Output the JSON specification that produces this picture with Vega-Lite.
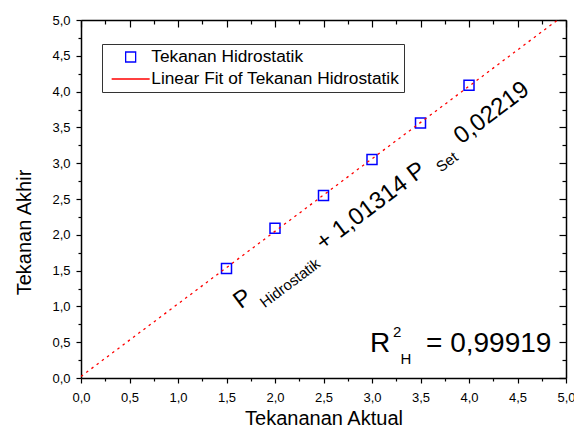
{
  "$schema": "https://vega.github.io/schema/vega-lite/v6.json",
  "width": 485,
  "height": 358,
  "autosize": {"type": "none"},
  "padding": {"left": 81, "top": 20, "right": 8, "bottom": 49},
  "background": "white",
  "config": {
    "font": "Liberation Sans",
    "locale": {"number": {"decimal": ",", "thousands": ".", "grouping": [3], "currency": ["", ""]}},
    "view": {"stroke": null},
    "legend": {"strokeWidth": 1},
    "axis": {
      "grid": false,
      "domainColor": "black",
      "domainWidth": 1.5,
      "tickColor": "black",
      "tickWidth": 1.2,
      "labelColor": "black",
      "titleColor": "black",
      "labelFont": "Liberation Sans",
      "titleFont": "Liberation Sans",
      "titleFontWeight": "normal"
    }
  },
  "datasets": {
    "obs": [
      {"aktual": 1.5, "akhir": 1.53, "series": "Tekanan Hidrostatik"},
      {"aktual": 2.0, "akhir": 2.09, "series": "Tekanan Hidrostatik"},
      {"aktual": 2.5, "akhir": 2.55, "series": "Tekanan Hidrostatik"},
      {"aktual": 3.0, "akhir": 3.05, "series": "Tekanan Hidrostatik"},
      {"aktual": 3.5, "akhir": 3.56, "series": "Tekanan Hidrostatik"},
      {"aktual": 4.0, "akhir": 4.09, "series": "Tekanan Hidrostatik"}
    ],
    "fit": [
      {"aktual": 0, "akhir": 0.02219, "series": "Linear Fit of Tekanan Hidrostatik"},
      {"aktual": 4.913, "akhir": 5.0, "series": "Linear Fit of Tekanan Hidrostatik"}
    ],
    "eqBig": [
      {"x": 1.67, "y": 1.103, "t": "P"},
      {"x": 2.99, "y": 2.395, "t": "+ 1,01314 P"},
      {"x": 4.234, "y": 3.701, "t": "0,02219"}
    ],
    "eqSmall": [
      {"x": 2.155, "y": 1.327, "t": "Hidrostatik"},
      {"x": 3.773, "y": 3.017, "t": "Set"}
    ],
    "rBig": [
      {"x": 2.979, "y": 0.367, "t": "R"},
      {"x": 3.557, "y": 0.367, "t": "= 0,99919"}
    ],
    "rSmall": [
      {"x": 3.216, "y": 0.568, "t": "2"},
      {"x": 3.294, "y": 0.196, "t": "H"}
    ]
  },
  "resolve": {"axis": {"x": "independent", "y": "independent"}},
  "layer": [
    {
      "data": {"name": "obs"},
      "mark": {"type": "point", "shape": "square", "filled": false, "size": 100, "strokeWidth": 1.5, "opacity": 1},
      "encoding": {
        "x": {
          "field": "aktual", "type": "quantitative",
          "scale": {"domain": [0, 5], "nice": false, "zero": false},
          "axis": {"orient": "bottom", "values": [0, 0.5, 1, 1.5, 2, 2.5, 3, 3.5, 4, 4.5, 5], "format": ".1f", "tickSize": 5, "labelPadding": 8, "labelFontSize": 13, "labelFlush": false, "labelOverlap": false, "title": "Tekananan Aktual", "titleFontSize": 20, "titleY": 46, "titleBaseline": "alphabetic"}
        },
        "y": {
          "field": "akhir", "type": "quantitative",
          "scale": {"domain": [0, 5], "nice": false, "zero": false},
          "axis": {"orient": "left", "values": [0, 0.5, 1, 1.5, 2, 2.5, 3, 3.5, 4, 4.5, 5], "format": ".1f", "tickSize": 5, "labelPadding": 6, "labelFontSize": 13, "labelFlush": false, "labelOverlap": false, "title": "Tekanan Akhir", "titleFontSize": 20, "titleX": -51, "titleY": 212, "titleAngle": 270, "titleBaseline": "alphabetic"}
        },
        "color": {
          "field": "series", "type": "nominal",
          "scale": {"domain": ["Tekanan Hidrostatik", "Linear Fit of Tekanan Hidrostatik"], "range": ["#0000ff", "#ff0000"]},
          "legend": {
            "title": null, "orient": "none", "legendX": 21, "legendY": 24,
            "strokeColor": "#333333", "fillColor": "white",
            "padding": 4, "symbolOffset": 16, "labelOffset": 12,
            "labelFontSize": 17.3, "labelFont": "Liberation Sans", "labelColor": "black",
            "clipHeight": 18, "rowPadding": 4, "labelLimit": 400,
            "symbolSize": 100, "symbolStrokeWidth": 1.3
          }
        },
        "shape": {
          "field": "series", "type": "nominal",
          "scale": {"domain": ["Tekanan Hidrostatik", "Linear Fit of Tekanan Hidrostatik"], "range": ["square", "M-3.8,0H3.8"]},
          "legend": {
            "title": null, "orient": "none", "legendX": 21, "legendY": 24,
            "strokeColor": "#333333", "fillColor": "white",
            "padding": 4, "symbolOffset": 16, "labelOffset": 12,
            "labelFontSize": 17.3, "labelFont": "Liberation Sans", "labelColor": "black",
            "clipHeight": 18, "rowPadding": 4, "labelLimit": 400,
            "symbolSize": 100, "symbolStrokeWidth": 1.3
          }
        }
      }
    },
    {
      "data": {"name": "fit"},
      "mark": {"type": "line", "strokeDash": [2.5, 4], "strokeWidth": 1.3, "clip": true},
      "encoding": {
        "x": {
          "field": "aktual", "type": "quantitative",
          "scale": {"domain": [0, 5], "nice": false, "zero": false},
          "axis": {"orient": "bottom", "values": [0.25, 0.75, 1.25, 1.75, 2.25, 2.75, 3.25, 3.75, 4.25, 4.75], "labels": false, "tickSize": 3, "domain": false, "title": null}
        },
        "y": {
          "field": "akhir", "type": "quantitative",
          "scale": {"domain": [0, 5], "nice": false, "zero": false},
          "axis": {"orient": "left", "values": [0.25, 0.75, 1.25, 1.75, 2.25, 2.75, 3.25, 3.75, 4.25, 4.75], "labels": false, "tickSize": 3, "domain": false, "title": null}
        },
        "color": {"field": "series", "type": "nominal"}
      }
    },
    {
      "data": {"name": "eqBig"},
      "mark": {"type": "text", "angle": -37, "fontSize": 24, "align": "center", "baseline": "middle", "color": "black", "font": "Liberation Sans"},
      "encoding": {
        "x": {
          "field": "x", "type": "quantitative",
          "scale": {"domain": [0, 5], "nice": false, "zero": false},
          "axis": {"orient": "top", "values": [0, 0.5, 1, 1.5, 2, 2.5, 3, 3.5, 4, 4.5, 5], "labels": false, "tickSize": -7, "title": null}
        },
        "y": {
          "field": "y", "type": "quantitative",
          "scale": {"domain": [0, 5], "nice": false, "zero": false},
          "axis": {"orient": "right", "values": [0, 0.5, 1, 1.5, 2, 2.5, 3, 3.5, 4, 4.5, 5], "labels": false, "tickSize": -7, "title": null}
        },
        "text": {"field": "t"}
      }
    },
    {
      "data": {"name": "eqSmall"},
      "mark": {"type": "text", "angle": -37, "fontSize": 15, "align": "center", "baseline": "middle", "color": "black", "font": "Liberation Sans"},
      "encoding": {
        "x": {
          "field": "x", "type": "quantitative",
          "scale": {"domain": [0, 5], "nice": false, "zero": false},
          "axis": {"orient": "top", "values": [0.25, 0.75, 1.25, 1.75, 2.25, 2.75, 3.25, 3.75, 4.25, 4.75], "labels": false, "tickSize": -4, "domain": false, "title": null}
        },
        "y": {
          "field": "y", "type": "quantitative",
          "scale": {"domain": [0, 5], "nice": false, "zero": false},
          "axis": {"orient": "right", "values": [0.25, 0.75, 1.25, 1.75, 2.25, 2.75, 3.25, 3.75, 4.25, 4.75], "labels": false, "tickSize": -4, "domain": false, "title": null}
        },
        "text": {"field": "t"}
      }
    },
    {
      "data": {"name": "rBig"},
      "mark": {"type": "text", "fontSize": 28, "align": "left", "baseline": "alphabetic", "color": "black", "font": "Liberation Sans"},
      "encoding": {
        "x": {"field": "x", "type": "quantitative", "scale": {"domain": [0, 5], "nice": false, "zero": false}, "axis": null},
        "y": {"field": "y", "type": "quantitative", "scale": {"domain": [0, 5], "nice": false, "zero": false}, "axis": null},
        "text": {"field": "t"}
      }
    },
    {
      "data": {"name": "rSmall"},
      "mark": {"type": "text", "fontSize": 15, "align": "left", "baseline": "alphabetic", "color": "black", "font": "Liberation Sans"},
      "encoding": {
        "x": {"field": "x", "type": "quantitative", "scale": {"domain": [0, 5], "nice": false, "zero": false}, "axis": null},
        "y": {"field": "y", "type": "quantitative", "scale": {"domain": [0, 5], "nice": false, "zero": false}, "axis": null},
        "text": {"field": "t"}
      }
    }
  ]
}
